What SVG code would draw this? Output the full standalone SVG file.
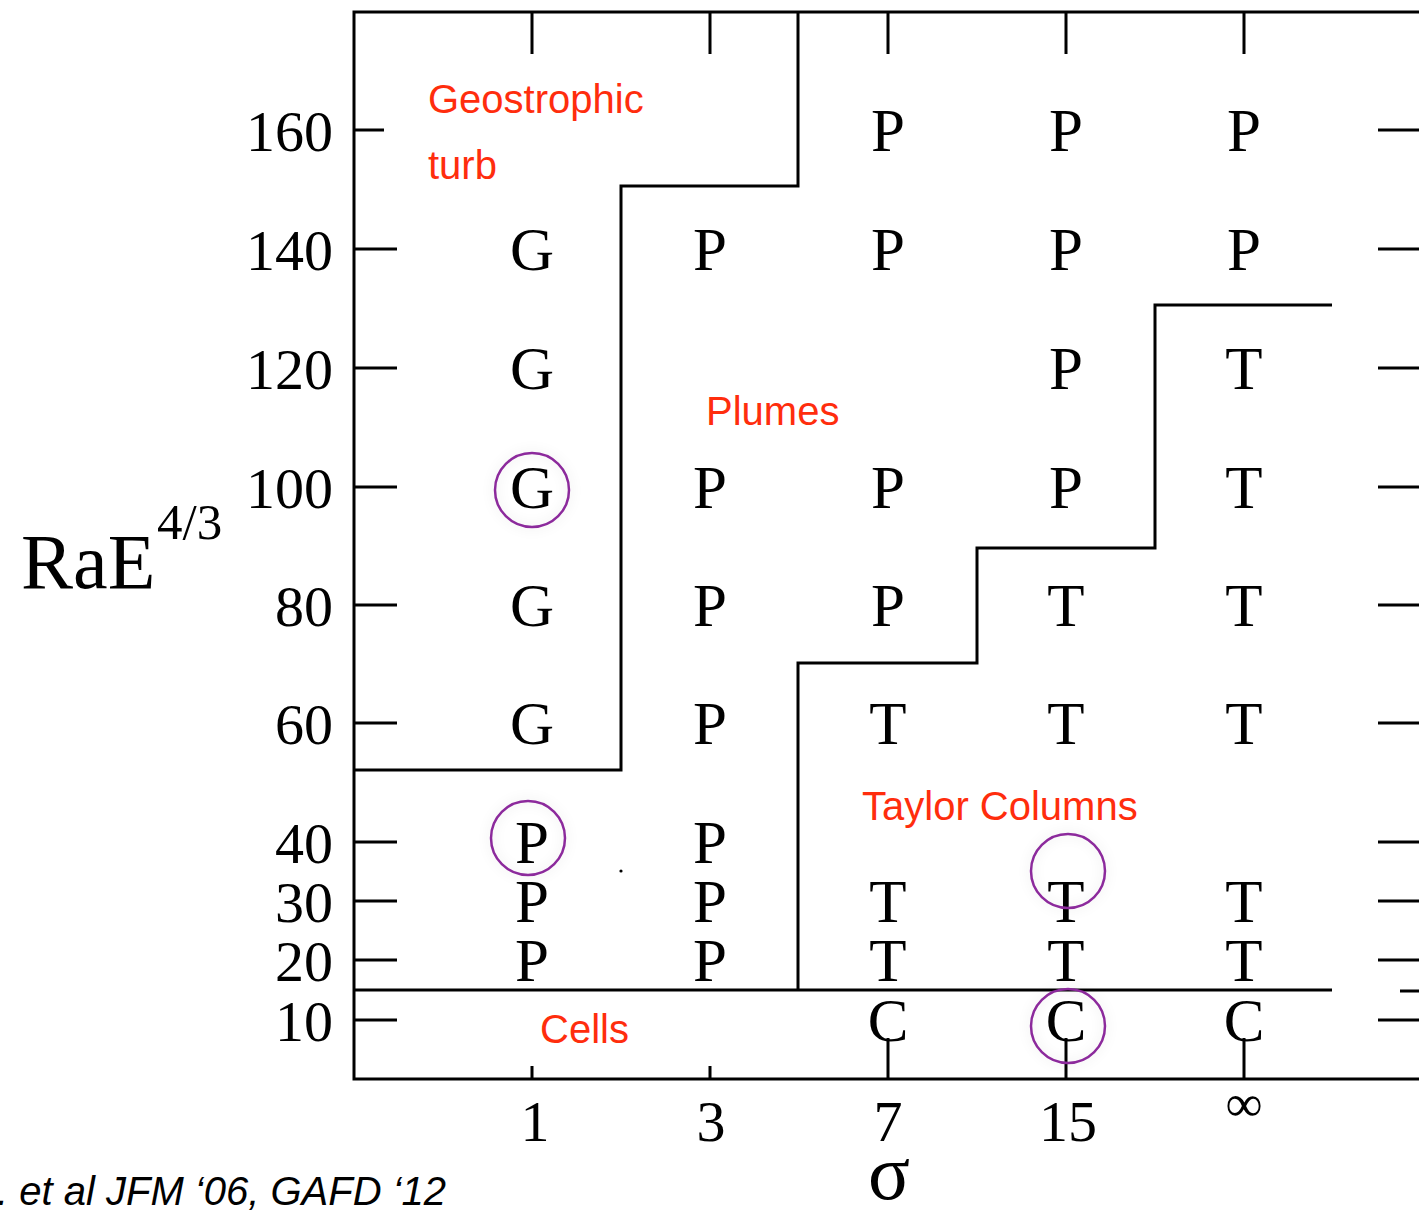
<svg xmlns="http://www.w3.org/2000/svg" width="1419" height="1210" viewBox="0 0 1419 1210">
  <style>
    .ax { stroke: #000; stroke-width: 3; fill: none; stroke-linecap: square; }
    .bd { stroke: #000; stroke-width: 3; fill: none; stroke-linejoin: miter; }
    .tk { stroke: #000; stroke-width: 3; fill: none; }
    .num { font-family: "Liberation Serif", "Times New Roman", serif; font-size: 58px; fill: #000; text-anchor: end; }
    .xl { font-family: "Liberation Serif", "Times New Roman", serif; font-size: 58px; fill: #000; text-anchor: middle; }
    .cell { font-family: "Liberation Serif", "Times New Roman", serif; font-size: 61px; fill: #000; text-anchor: middle; }
    .reg { font-family: "Liberation Sans", Arial, sans-serif; font-size: 40px; fill: #ff2d0d; }
    .mark { fill: none; stroke: #8c2a9c; stroke-width: 2.5; }
    .cite { font-family: "Liberation Sans", Arial, sans-serif; font-size: 40px; font-style: italic; fill: #000; }
  </style>
  <defs>
    <filter id="halo" x="-50%" y="-50%" width="200%" height="200%">
      <feGaussianBlur in="SourceAlpha" stdDeviation="6" result="b"/>
      <feFlood flood-color="#000" flood-opacity="0.12"/>
      <feComposite in2="b" operator="in" result="s"/>
      <feMerge><feMergeNode in="s"/><feMergeNode in="SourceGraphic"/></feMerge>
    </filter>
  </defs>

  <rect width="1419" height="1210" fill="#fff"/>

  <!-- frame -->
  <g id="frame">
    <path class="ax" d="M1425 12 H354 V1079 H1425"/>
  </g>

  <!-- tick marks -->
  <g id="ticks">
    <path class="tk" d="M532 12 V54 M710 12 V54 M888 12 V54 M1066 12 V54 M1244 12 V54"/>
    <path class="tk" d="M532 1079 V1066 M710 1079 V1066 M888 1079 V1038 M1066 1079 V1038 M1244 1079 V1038"/>
    <path class="tk" d="M354 130 H384 M354 249 H397 M354 368 H397 M354 487 H397 M354 605 H397 M354 723 H397 M354 842 H397 M354 901 H397 M354 960 H397 M354 1020 H397"/>
    <path class="tk" d="M1378 130 H1419 M1378 249 H1419 M1378 368 H1419 M1378 487 H1419 M1378 605 H1419 M1378 723 H1419 M1378 842 H1419 M1378 901 H1419 M1378 960 H1419 M1400 991 H1419 M1378 1020 H1419"/>
  </g>

  <!-- y tick labels -->
  <g id="y-labels">
    <text class="num" x="333" y="151">160</text>
    <text class="num" x="333" y="270">140</text>
    <text class="num" x="333" y="389">120</text>
    <text class="num" x="333" y="508">100</text>
    <text class="num" x="333" y="626">80</text>
    <text class="num" x="333" y="744">60</text>
    <text class="num" x="333" y="863">40</text>
    <text class="num" x="333" y="922">30</text>
    <text class="num" x="333" y="981">20</text>
    <text class="num" x="333" y="1041">10</text>
  </g>

  <!-- x tick labels -->
  <g id="x-labels">
    <text class="xl" x="535" y="1141">1</text>
    <text class="xl" x="711" y="1141">3</text>
    <text class="xl" x="888" y="1141">7</text>
    <text class="xl" x="1068" y="1141">15</text>
    <text class="xl" x="1244" y="1121" style="font-size:52px">∞</text>
  </g>

  <!-- axis titles -->
  <g id="axis-titles">
    <text x="21" y="588" style="font-family:'Liberation Serif','Times New Roman',serif;font-size:78px;fill:#000">RaE<tspan x="157" y="539" style="font-size:51px">4/3</tspan></text>
    <text class="xl" x="889" y="1199" style="font-size:78px">σ</text>
  </g>

  <!-- regime boundaries -->
  <g id="connectors">
    <path class="bd" d="M798 12 V186 H621 V770 H354"/>
    <path class="bd" d="M1332 305 H1155 V548 H977 V663 H798 V990"/>
    <path class="bd" d="M354 990 H1332"/>
    <circle cx="621" cy="871" r="1.6" fill="#000"/>
  </g>

  <!-- regime labels -->
  <g id="region-labels">
    <text class="reg" x="428" y="113">Geostrophic</text>
    <text class="reg" x="428" y="179">turb</text>
    <text class="reg" x="706" y="425">Plumes</text>
    <text class="reg" x="862" y="820">Taylor Columns</text>
    <text class="reg" x="540" y="1043">Cells</text>
  </g>

  <!-- regime data points -->
  <g id="points">
    <g id="col-1">
      <text class="cell" x="532" y="270">G</text>
      <text class="cell" x="532" y="389">G</text>
      <text class="cell" x="532" y="508">G</text>
      <text class="cell" x="532" y="626">G</text>
      <text class="cell" x="532" y="744">G</text>
      <text class="cell" x="532" y="863">P</text>
      <text class="cell" x="532" y="922">P</text>
      <text class="cell" x="532" y="981">P</text>
    </g>
    <g id="col-3">
      <text class="cell" x="710" y="270">P</text>
      <text class="cell" x="710" y="508">P</text>
      <text class="cell" x="710" y="626">P</text>
      <text class="cell" x="710" y="744">P</text>
      <text class="cell" x="710" y="863">P</text>
      <text class="cell" x="710" y="922">P</text>
      <text class="cell" x="710" y="981">P</text>
    </g>
    <g id="col-7">
      <text class="cell" x="888" y="151">P</text>
      <text class="cell" x="888" y="270">P</text>
      <text class="cell" x="888" y="508">P</text>
      <text class="cell" x="888" y="626">P</text>
      <text class="cell" x="888" y="744">T</text>
      <text class="cell" x="888" y="922">T</text>
      <text class="cell" x="888" y="981">T</text>
      <text class="cell" x="888" y="1041">C</text>
    </g>
    <g id="col-15">
      <text class="cell" x="1066" y="151">P</text>
      <text class="cell" x="1066" y="270">P</text>
      <text class="cell" x="1066" y="389">P</text>
      <text class="cell" x="1066" y="508">P</text>
      <text class="cell" x="1066" y="626">T</text>
      <text class="cell" x="1066" y="744">T</text>
      <text class="cell" x="1066" y="922">T</text>
      <text class="cell" x="1066" y="981">T</text>
      <text class="cell" x="1066" y="1041">C</text>
    </g>
    <g id="col-inf">
      <text class="cell" x="1244" y="151">P</text>
      <text class="cell" x="1244" y="270">P</text>
      <text class="cell" x="1244" y="389">T</text>
      <text class="cell" x="1244" y="508">T</text>
      <text class="cell" x="1244" y="626">T</text>
      <text class="cell" x="1244" y="744">T</text>
      <text class="cell" x="1244" y="922">T</text>
      <text class="cell" x="1244" y="981">T</text>
      <text class="cell" x="1244" y="1041">C</text>
    </g>
  </g>

  <!-- highlighted cases -->
  <g id="highlights" filter="url(#halo)">
    <circle class="mark" cx="532" cy="490" r="37"/>
    <circle class="mark" cx="528" cy="838" r="37"/>
    <circle class="mark" cx="1068" cy="871" r="37"/>
    <circle class="mark" cx="1068" cy="1026" r="37"/>
  </g>

  <!-- reference -->
  <text class="cite" x="-3" y="1205">. et al JFM ‘06, GAFD ‘12</text>
</svg>
